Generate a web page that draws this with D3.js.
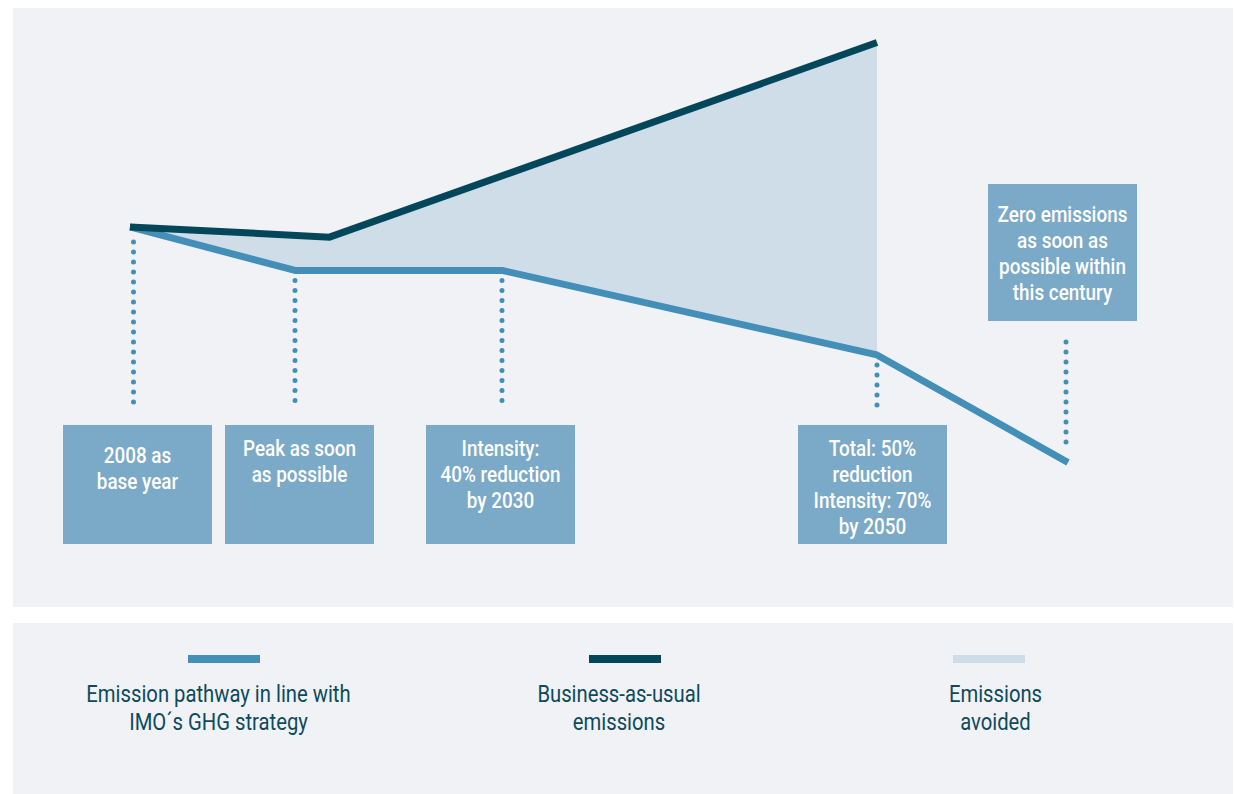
<!DOCTYPE html>
<html>
<head>
<meta charset="utf-8">
<script src="https://cdnjs.cloudflare.com/ajax/libs/d3/7.8.5/d3.min.js"></script>
<style>
  html, body { margin: 0; padding: 0; background: #fff; }
  svg { display: block; }
  text { font-family: "Roboto", "Noto Sans", sans-serif; }
</style>
</head>
<body>
<svg id="chart" width="1234" height="794"></svg>
<script>
// emissions index, 2008 = 100
var bauYears = [2008, 2020, 2050];
var bauValues = [100, 96, 172];
var pathYears = [2008, 2018, 2030, 2050, 2060];
var pathValues = [100, 83, 83, 50, 8];

// annotation boxes, with the year they point at
var noteYears = [2008, 2018, 2030, 2050, 2060];
var noteLines = [
    ['2008 as', 'base year'],
    ['Peak as soon', 'as possible'],
    ['Intensity:', '40% reduction', 'by 2030'],
    ['Total: 50%', 'reduction', 'Intensity: 70%', 'by 2050'],
    ['Zero emissions', 'as soon as', 'possible within', 'this century']
];
var notePlace = ['below', 'below', 'below', 'below', 'above'];

var legendLabels = [
    ['Emission pathway in line with', 'IMO\u00b4s GHG strategy'],
    ['Business-as-usual', 'emissions'],
    ['Emissions', 'avoided']
];

var colors = {
    panel: '#f0f2f6',
    bau: '#05475a',
    path: '#438fb7',
    avoided: '#cfdde9',
    box: '#7ba9c8',
    text: '#0e4a5c'
};

var svg = d3.select('#chart');

var x = d3.scaleLinear()
    .domain([2008, 2018, 2030, 2050, 2060])
    .range([130, 295, 502, 877, 1068]);
var y = d3.scaleLinear()
    .domain([0, 180])
    .range([483, 22]);

function pairs(xs, vs) {
    return xs.map(function(d, i) { return [d, vs[i]]; });
}
var bau = pairs(bauYears, bauValues);
var path = pairs(pathYears, pathValues);

svg.append('rect')
    .attr('x', 13).attr('y', 8)
    .attr('width', 1220).attr('height', 599)
    .attr('fill', colors.panel);
svg.append('rect')
    .attr('x', 13).attr('y', 623)
    .attr('width', 1220).attr('height', 171)
    .attr('fill', colors.panel);

var line = d3.line()
    .x(function(d) { return x(d[0]); })
    .y(function(d) { return y(d[1]); });

// avoided area: BAU on top, pathway below, up to 2050
var lastBau = bauYears[bauYears.length - 1];
var avoided = bau.concat(path.filter(function(d) { return d[0] <= lastBau; }).reverse());
svg.append('path')
    .attr('d', line(avoided) + 'Z')
    .attr('fill', colors.avoided);

svg.append('path')
    .attr('d', line(path))
    .attr('fill', 'none')
    .attr('stroke', colors.path)
    .attr('stroke-width', 7)
    .attr('stroke-linejoin', 'round');

svg.append('path')
    .attr('d', line(bau))
    .attr('fill', 'none')
    .attr('stroke', colors.bau)
    .attr('stroke-width', 7);

// condensed look: squeeze the text horizontally around its centre
function textBlock(cx, lines, first, step, opts) {
    svg.append('g')
        .attr('transform', 'translate(' + cx + ',0) scale(' + opts.squeeze + ',1)')
        .append('text')
        .attr('text-anchor', 'middle')
        .attr('fill', opts.fill)
        .attr('font-size', opts.size)
        .attr('font-weight', opts.weight)
        .selectAll('tspan')
        .data(lines)
        .join('tspan')
        .attr('x', 0)
        .attr('y', function(d, j) { return first + j * step; })
        .text(function(d) { return d; });
}

// notes
var boxW = 149;
var boxShift = [7.5, 4.5, -1.5, -4.5, -5.5];
var dotShift = [3.5, 0, 0, 0, -2];
noteYears.forEach(function(yr, i) {
    var cx = x(yr) + boxShift[i];
    var dotX = x(yr) + dotShift[i];
    var val = pathValues[pathYears.indexOf(yr)];
    var lines = noteLines[i];
    var top, h, y1, y2, first;
    if (notePlace[i] === 'below') {
        top = 425; h = 119;
        y1 = y(val) + (i === 0 ? 15 : 10);
        y2 = 405;
        first = top + (i === 0 ? 38 : 31);
    } else {
        top = 184; h = 137;
        y1 = top + h + 21;
        y2 = y(val) - 20;
        first = top + 38;
    }
    svg.append('line')
        .attr('x1', dotX).attr('x2', dotX)
        .attr('y1', y1).attr('y2', y2)
        .attr('stroke', colors.path)
        .attr('stroke-width', 5)
        .attr('stroke-linecap', 'round')
        .attr('stroke-dasharray', '0 10');
    svg.append('rect')
        .attr('x', cx - boxW / 2)
        .attr('y', top)
        .attr('width', boxW).attr('height', h)
        .attr('fill', colors.box);
    textBlock(cx, lines, first, 26,
        {fill: '#fff', size: 22.5, weight: 500, squeeze: 0.84});
});

// legend
var legendX = [224, 625, 989];
var legendTextX = [218.5, 619, 995.5];
var legendKind = ['path', 'bau', 'avoided'];
legendX.forEach(function(lx, i) {
    svg.append('rect')
        .attr('x', lx - 36).attr('y', 655)
        .attr('width', 72).attr('height', 8)
        .attr('fill', colors[legendKind[i]]);
    textBlock(legendTextX[i], legendLabels[i], 702, 28,
        {fill: colors.text, size: 23, weight: 400, squeeze: 0.88});
});
</script>
</body>
</html>
